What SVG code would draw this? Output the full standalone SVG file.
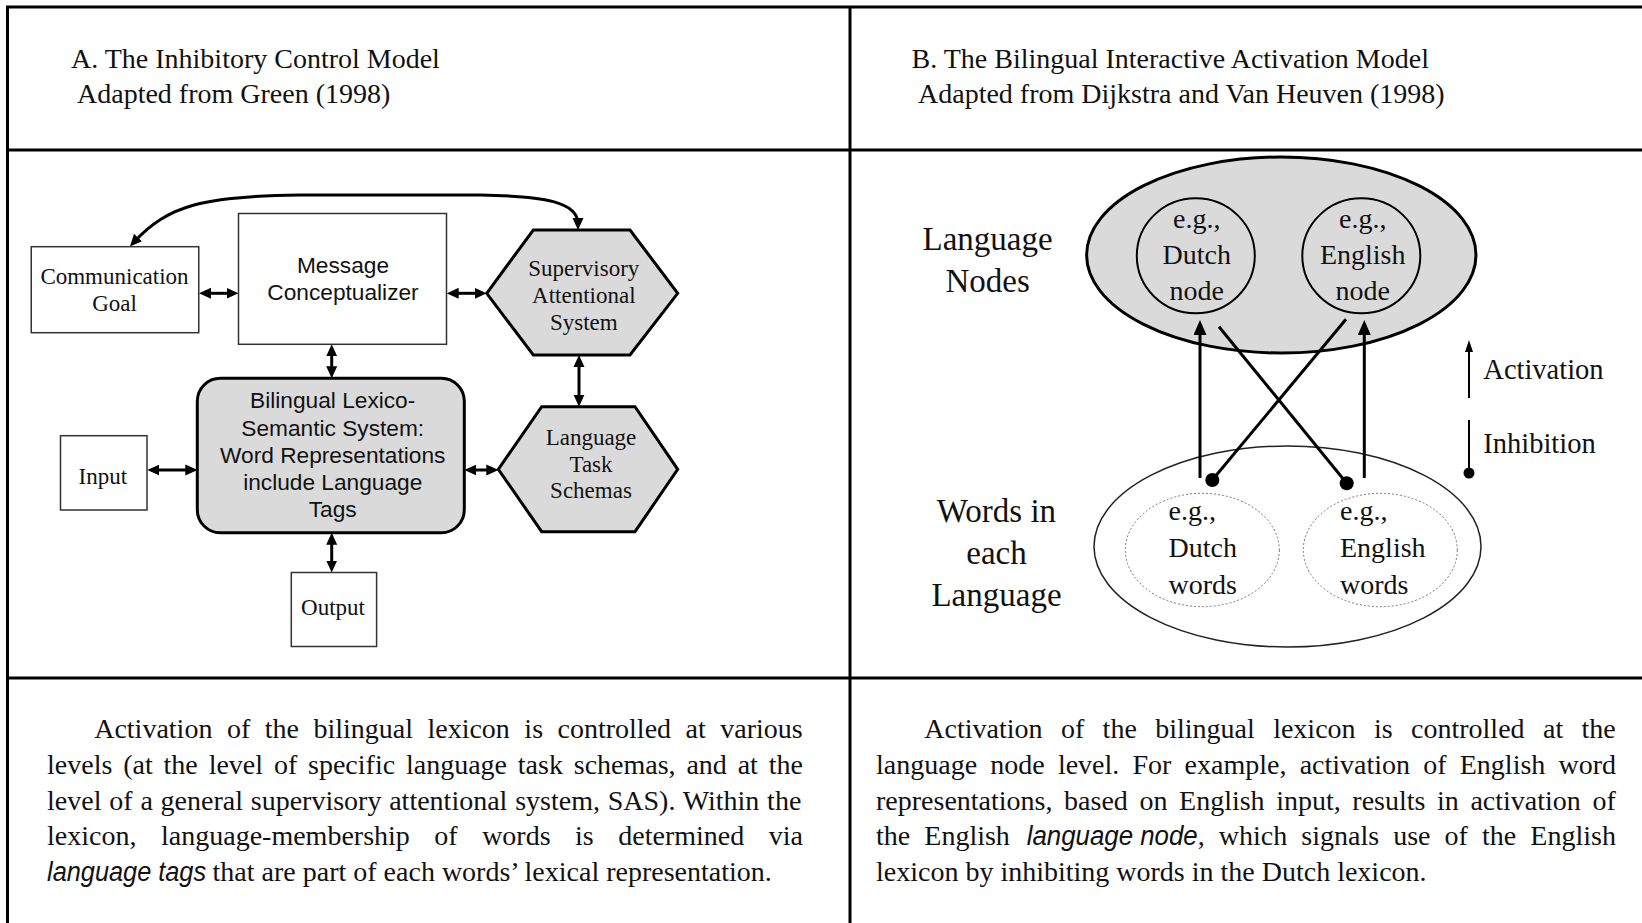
<svg xmlns="http://www.w3.org/2000/svg" width="1642" height="923" viewBox="0 0 1642 923">
<style>
.serif{font-family:"Liberation Serif","Times New Roman",serif;fill:#111}
.sans{font-family:"Liberation Sans",Arial,sans-serif;fill:#111}
.ital{font-family:"Liberation Sans",Arial,sans-serif;font-style:italic;fill:#111}
.box{fill:#fff;stroke:#333;stroke-width:1.5}
.gray{fill:#dadada;stroke:#000;stroke-width:3}
.grid{stroke:#000;stroke-width:3;fill:none}
.conn{stroke:#000;stroke-width:3;fill:none}
.thin{stroke:#000;stroke-width:2;fill:none}
.dash{fill:none;stroke:#777;stroke-width:1;stroke-dasharray:2 2}
.t23{font-size:23px}
.t28{font-size:28px}
.t33{font-size:33px}
.a23{font-size:22.7px}
</style>
<defs>
<marker id="ah" viewBox="0 0 12 12" refX="6" refY="6" markerWidth="12" markerHeight="12" markerUnits="userSpaceOnUse" orient="auto-start-reverse"><path d="M0,0.5 L12,6 L0,11.5 z" fill="#000"/></marker>
<marker id="ahR" viewBox="0 0 15 13" refX="7" refY="6.5" markerWidth="15" markerHeight="13" markerUnits="userSpaceOnUse" orient="auto"><path d="M0,0 L15,6.5 L0,13 z" fill="#000"/></marker>
<marker id="ahS" viewBox="0 0 12 8" refX="6" refY="4" markerWidth="12" markerHeight="8" markerUnits="userSpaceOnUse" orient="auto"><path d="M0,0 L12,4 L0,8 z" fill="#000"/></marker>
</defs>
<rect width="1642" height="923" fill="#fff"/>

<g id="table">
<line class="grid" x1="6" y1="7" x2="1642" y2="7"/>
<line class="grid" x1="7.5" y1="7" x2="7.5" y2="923"/>
<line class="grid" x1="850" y1="7" x2="850" y2="923"/>
<line class="grid" x1="6" y1="150" x2="1642" y2="150"/>
<line class="grid" x1="6" y1="678" x2="1642" y2="678"/>
</g>

<g id="titles" class="serif t28">
<text x="71" y="68">A. The Inhibitory Control Model</text>
<text x="77" y="103">Adapted from Green (1998)</text>
<text x="911.6" y="68">B. The Bilingual Interactive Activation Model</text>
<text x="918" y="103">Adapted from Dijkstra and Van Heuven (1998)</text>
</g>

<g id="connectors-left">
<path class="conn" d="M134,242 C168,205 205,196 300,195 L480,195 C545,196 578,202 578,224" marker-start="url(#ah)" marker-end="url(#ah)"/>
<line class="conn" x1="205" y1="293.3" x2="232.5" y2="293.3" marker-start="url(#ah)" marker-end="url(#ah)"/>
<line class="conn" x1="452.7" y1="293.3" x2="480.7" y2="293.3" marker-start="url(#ah)" marker-end="url(#ah)"/>
<line class="conn" x1="331.7" y1="350.3" x2="331.7" y2="372.3" marker-start="url(#ah)" marker-end="url(#ah)"/>
<line class="conn" x1="579" y1="361" x2="579" y2="400.7" marker-start="url(#ah)" marker-end="url(#ah)"/>
<line class="conn" x1="153.3" y1="470" x2="191.3" y2="470" marker-start="url(#ah)" marker-end="url(#ah)"/>
<line class="conn" x1="470.3" y1="470" x2="492.3" y2="470" marker-start="url(#ah)" marker-end="url(#ah)"/>
<line class="conn" x1="331.7" y1="538.7" x2="331.7" y2="566.5" marker-start="url(#ah)" marker-end="url(#ah)"/>
</g>

<g id="comm-goal">
<rect class="box" x="31.25" y="246.7" width="167.5" height="86"/>
<text class="serif t23" text-anchor="middle" x="114.5" y="284">Communication</text>
<text class="serif t23" text-anchor="middle" x="114.5" y="311">Goal</text>
</g>
<g id="message">
<rect class="box" x="238.5" y="213.5" width="208" height="130.8"/>
<text class="sans a23" text-anchor="middle" x="343" y="272.5">Message</text>
<text class="sans a23" text-anchor="middle" x="343" y="300">Conceptualizer</text>
</g>
<g id="sas">
<polygon class="gray" points="486.7,293.3 533.3,230 630,230 677.7,293.3 630,355 533.3,355"/>
<text class="serif t23" text-anchor="middle" x="583.8" y="276">Supervisory</text>
<text class="serif t23" text-anchor="middle" x="583.8" y="303.3">Attentional</text>
<text class="serif t23" text-anchor="middle" x="583.8" y="330">System</text>
</g>
<g id="lexicon">
<rect class="gray" x="197.3" y="378.3" width="267" height="154.4" rx="23" ry="23"/>
<text class="sans a23" text-anchor="middle" x="332.7" y="408.3">Bilingual Lexico-</text>
<text class="sans a23" text-anchor="middle" x="332.7" y="435.5">Semantic System:</text>
<text class="sans a23" text-anchor="middle" x="332.7" y="462.8">Word Representations</text>
<text class="sans a23" text-anchor="middle" x="332.7" y="490">include Language</text>
<text class="sans a23" text-anchor="middle" x="332.7" y="517.3">Tags</text>
</g>
<g id="lts">
<polygon class="gray" points="498.3,469.3 541.7,406.7 635,406.7 677.7,469.3 635,531.7 541.7,531.7"/>
<text class="serif t23" text-anchor="middle" x="591" y="445">Language</text>
<text class="serif t23" text-anchor="middle" x="591" y="471.7">Task</text>
<text class="serif t23" text-anchor="middle" x="591" y="498.3">Schemas</text>
</g>
<g id="input">
<rect class="box" x="60.5" y="435.7" width="86.5" height="74.3"/>
<text class="serif t23" text-anchor="middle" x="102.9" y="484">Input</text>
</g>
<g id="output">
<rect class="box" x="291.3" y="572.5" width="85.3" height="74"/>
<text class="serif t23" text-anchor="middle" x="333" y="615">Output</text>
</g>

<g id="language-nodes">
<ellipse class="gray" cx="1281.3" cy="255" rx="194.7" ry="98"/>
<text class="serif t33" text-anchor="middle" x="987.6" y="250">Language</text>
<text class="serif t33" text-anchor="middle" x="987.6" y="291.7">Nodes</text>
</g>
<g id="dutch-node">
<ellipse cx="1195.8" cy="255.8" rx="59" ry="57.5" fill="none" stroke="#000" stroke-width="2"/>
<text class="serif t28" text-anchor="middle" x="1196.7" y="228.3">e.g.,</text>
<text class="serif t28" text-anchor="middle" x="1196.7" y="264">Dutch</text>
<text class="serif t28" text-anchor="middle" x="1196.7" y="300">node</text>
</g>
<g id="english-node">
<ellipse cx="1361.3" cy="255.8" rx="59" ry="57.5" fill="none" stroke="#000" stroke-width="2"/>
<text class="serif t28" text-anchor="middle" x="1362.7" y="228.3">e.g.,</text>
<text class="serif t28" text-anchor="middle" x="1362.7" y="264">English</text>
<text class="serif t28" text-anchor="middle" x="1362.7" y="300">node</text>
</g>
<g id="words-lexicon">
<ellipse cx="1287.5" cy="546.5" rx="193.5" ry="100.5" fill="#fff" stroke="#222" stroke-width="1.5"/>
<text class="serif t33" text-anchor="middle" x="996.5" y="521.5">Words in</text>
<text class="serif t33" text-anchor="middle" x="996.5" y="563.5">each</text>
<text class="serif t33" text-anchor="middle" x="996.5" y="605.5">Language</text>
</g>
<g id="dutch-words">
<ellipse class="dash" cx="1202.3" cy="550" rx="77" ry="56.7"/>
<text class="serif t28" x="1168.5" y="520">e.g.,</text>
<text class="serif t28" x="1168.5" y="557">Dutch</text>
<text class="serif t28" x="1168.5" y="594">words</text>
</g>
<g id="english-words">
<ellipse class="dash" cx="1380.3" cy="550" rx="77" ry="56.7"/>
<text class="serif t28" x="1340" y="520">e.g.,</text>
<text class="serif t28" x="1340" y="557">English</text>
<text class="serif t28" x="1340" y="594">words</text>
</g>

<g id="connectors-right">
<line class="conn" x1="1200" y1="478" x2="1200" y2="328" marker-end="url(#ahR)"/>
<line class="conn" x1="1364.3" y1="478" x2="1364.3" y2="328" marker-end="url(#ahR)"/>
<line class="conn" x1="1219" y1="326.7" x2="1346.7" y2="483.3"/>
<circle cx="1346.7" cy="483.3" r="7" fill="#000"/>
<line class="conn" x1="1346" y1="319.3" x2="1212.3" y2="480"/>
<circle cx="1212.3" cy="480" r="7" fill="#000"/>
</g>

<g id="legend">
<line class="thin" x1="1469" y1="398" x2="1469" y2="346" marker-end="url(#ahS)"/>
<text class="serif" font-size="28.5" x="1483.3" y="379">Activation</text>
<line class="thin" x1="1469" y1="420" x2="1469" y2="473"/>
<circle cx="1469" cy="473" r="5.5" fill="#000"/>
<text class="serif" font-size="28.5" x="1483.3" y="453.4">Inhibition</text>
</g>

<g id="caption-left" class="serif t28">
<text x="94.2" y="738.3" word-spacing="7.5">Activation of the bilingual lexicon is controlled at various</text>
<text x="47.1" y="774" word-spacing="3.83">levels (at the level of specific language task schemas, and at the</text>
<text x="47.1" y="809.5" word-spacing="0.78">level of a general supervisory attentional system, SAS). Within the</text>
<text x="47.1" y="845" word-spacing="17.5">lexicon, language-membership of words is determined via</text>
<text class="ital" font-size="27" x="47.1" y="880.5" textLength="159" lengthAdjust="spacingAndGlyphs">language tags</text>
<text x="212.6" y="880.5">that are part of each words’ lexical representation.</text>
</g>
<g id="caption-right" class="serif t28">
<text x="924.3" y="738.3" word-spacing="11.4">Activation of the bilingual lexicon is controlled at the</text>
<text x="876" y="774" word-spacing="6.2">language node level. For example, activation of English word</text>
<text x="876" y="809.5" word-spacing="4.6">representations, based on English input, results in activation of</text>
<text x="876" y="845" word-spacing="7.1">the English</text>
<text class="ital" font-size="27" x="1026.7" y="845" textLength="171" lengthAdjust="spacingAndGlyphs">language node</text>
<text x="1197.7" y="845" word-spacing="7.1">, which signals use of the English</text>
<text x="876" y="880.5">lexicon by inhibiting words in the Dutch lexicon.</text>
</g>
</svg>
